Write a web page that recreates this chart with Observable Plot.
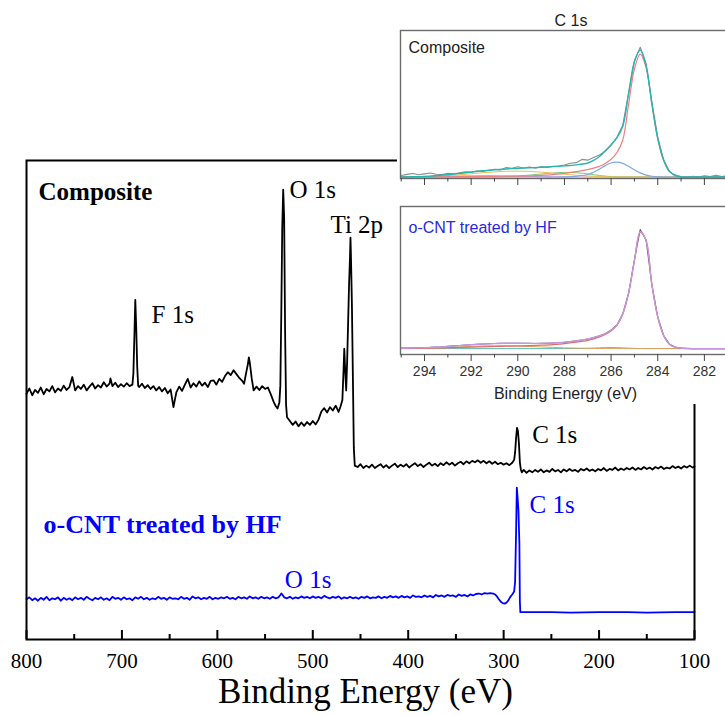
<!DOCTYPE html>
<html><head><meta charset="utf-8">
<script src="https://cdn.jsdelivr.net/npm/d3@7"></script>
<script src="https://cdn.jsdelivr.net/npm/@observablehq/plot@0.6"></script>
<style>
html,body{margin:0;padding:0;background:#fff;}
#wrap{position:relative;width:725px;height:715px;overflow:hidden;background:#fff;}
#main{position:absolute;left:0;top:0;}
#insetBg{position:absolute;left:397px;top:0;width:340px;height:404px;background:#fff;}
#inset1{position:absolute;left:395px;top:0;width:340px;}
#inset2{position:absolute;left:395px;top:195px;width:340px;}
</style></head><body>
<div id="wrap"><div id="main"></div><div id="insetBg"></div><div id="inset1"></div><div id="inset2"></div></div>
<script>
// ---------------- DATA ----------------
const sampleNames = ["Composite", "o-CNT treated by HF"];
const peakNames = ["F 1s", "O 1s", "Ti 2p", "C 1s"];
const surveyMajorTicks = [800, 700, 600, 500, 400, 300, 200, 100];
const surveyMinorTicks = [750, 650, 550, 450, 350, 250, 150];
const insetMajorTicks = [294, 292, 290, 288, 286, 284, 282];
const insetMinorTicks = [295, 293, 291, 289, 287, 285, 283, 281];
const axisTitle = "Binding Energy (eV)";
const insetTitle = "C 1s";

// Survey spectrum, Composite: [binding energy (eV), intensity (a.u.)]
const compositeSurvey = [
[800,51.3],[797,52.4],[794,51.0],[791,52.1],[788,51.5],[785,52.6],[782,51.2],[779,52.3],[776,51.8],[773,52.9],
[770,51.6],[767,52.4],[764,51.9],[761,53.0],[758,52.1],[755,52.7],[752,54.8],[749,52.0],[746,52.9],[743,52.3],
[740,53.2],[737,52.0],[734,52.8],[731,53.5],[728,52.4],[725,53.1],[722,52.6],[719,53.7],[716,52.8],[713,53.4],
[712,54.5],[710,52.9],[707,53.6],[704,52.7],[701,53.3],[698,52.8],[695,53.5],[692,52.9],[689,53.2],[688,55.5],
[687,63],[686,70.9],[685,65],[684,57],[683,53.0],[682,52.7],[679,53.4],[676,52.5],[673,53.1],[670,52.3],
[667,52.9],[664,52.0],[661,52.7],[658,51.8],[655,52.5],[652,51.4],[649,52.2],[646,48.5],[643,51.6],[640,52.8],
[637,51.9],[634,53.2],[631,54.4],[628,52.6],[625,53.5],[622,52.8],[619,53.9],[616,53.0],[613,53.6],[610,52.7],
[607,54.0],[604,54.1],[601,53.2],[598,54.4],[595,53.8],[592,55.0],[589,55.8],[586,55.2],[583,56.2],[580,55.4],
[577,54.6],[574,54.0],[572,53.4],[570,55.5],[568,57.5],[567,58.9],[566,57.8],[564,54.5],[562,52.0],[559,52.8],
[556,52.1],[553,52.9],[550,52.3],[547,52.6],[544,51.2],[541,49.6],[539,48.8],[537,48.2],[535,49.5],[534,53],
[533,68],[532,86],[531,93.9],[530,88],[529,64],[528,49],[527,46.4],[524,45.6],[521,44.8],[518,45.5],
[515,44.5],[512,45.3],[509,44.6],[506,45.4],[503,44.8],[500,45.6],[497,44.9],[494,45.9],[491,47.6],[488,48.3],
[485,47.4],[482,48.5],[479,47.8],[476,48.8],[473,47.5],[471,48.6],[469,50],[468,55],[467,60.7],[466,56],
[465,52],[464,58],[463,66],[462,74],[461,80],[460.5,83.9],[460,80],[459,70],[458,55],[457,40],
[456,36.3],[453,36.0],[450,36.6],[447,35.8],[444,36.3],[441,35.9],[438,36.5],[435,35.8],[432,36.2],[429,36.6],
[426,35.9],[423,36.4],[420,35.8],[417,36.3],[414,36.7],[411,36.0],[408,36.5],[405,36.1],[402,36.6],[399,35.9],
[396,36.4],[393,36.8],[390,36.2],[387,36.6],[384,36.0],[381,36.5],[378,36.9],[375,36.3],[372,36.7],[369,36.2],
[366,36.8],[363,36.4],[360,37.0],[357,36.5],[354,36.9],[351,36.3],[348,36.8],[345,37.1],[342,36.6],[339,37.2],
[336,36.8],[333,37.3],[330,37.0],[327,37.4],[324,36.9],[321,37.3],[318,36.8],[315,37.2],[312,36.7],[309,37.1],
[306,36.6],[303,36.9],[300,36.5],[297,36.8],[294,36.4],[291,36.9],[289,37.5],[288,39],[287,42],[286,44.2],
[285,43.5],[284,41],[283,37],[282,35.5],[281,34.9],[279,35.4],[276,34.8],[273,35.3],[270,34.9],[267,35.4],
[264,35.0],[261,35.5],[258,34.9],[255,35.3],[252,35.0],[249,35.6],[246,35.1],[243,35.4],[240,34.9],[237,35.5],
[234,35.1],[231,35.6],[228,35.2],[225,35.4],[222,35.0],[219,35.6],[216,35.3],[213,35.7],[210,35.2],[207,35.5],
[204,35.1],[201,35.6],[198,35.3],[195,35.8],[192,35.2],[189,35.6],[186,35.4],[183,35.9],[180,35.3],[177,35.7],
[174,35.4],[171,35.8],[168,35.5],[165,35.9],[162,35.4],[159,35.8],[156,35.5],[153,36.0],[150,35.6],[147,35.9],
[144,35.5],[141,36.0],[138,35.7],[135,36.1],[132,35.6],[129,35.9],[126,35.7],[123,36.2],[120,35.8],[117,36.1],
[114,35.7],[111,36.2],[108,35.9],[105,36.3],[102,35.9],[100,36.1]
];

// Survey spectrum, o-CNT treated by HF
const cntSurvey = [
[800,8.4],[797,8.8],[794,8.2],[791,8.6],[788,8.1],[785,8.7],[782,8.3],[779,8.9],[776,8.2],[773,8.6],
[770,8.4],[767,8.8],[764,8.1],[761,8.7],[758,8.3],[755,8.6],[752,8.2],[749,8.8],[746,8.4],[743,8.7],
[740,8.3],[737,8.9],[734,8.5],[731,8.2],[728,8.7],[725,8.4],[722,8.8],[719,8.3],[716,8.6],[713,8.2],
[710,8.9],[707,8.5],[704,8.7],[701,8.3],[698,8.8],[695,8.4],[692,8.6],[689,8.2],[686,8.8],[683,8.5],
[680,8.9],[677,8.4],[674,8.7],[671,8.3],[668,8.6],[665,8.4],[662,8.9],[659,8.5],[656,8.7],[653,8.3],
[650,8.8],[647,8.5],[644,8.6],[641,8.4],[638,8.9],[635,8.5],[632,8.7],[629,8.3],[626,9.0],[623,8.6],
[620,8.8],[617,8.4],[614,8.7],[611,8.5],[608,8.9],[605,8.4],[602,8.7],[599,8.5],[596,8.8],[593,8.6],
[590,8.9],[587,8.5],[584,8.7],[581,8.4],[578,8.9],[575,8.6],[572,8.8],[569,8.5],[566,9.0],[563,8.6],
[560,8.8],[557,8.5],[554,8.9],[551,8.6],[548,8.8],[545,8.5],[542,8.9],[539,8.6],[536,8.8],[534,9.3],
[533,9.6],[532,9.4],[530,8.8],[527,8.6],[524,8.9],[521,8.5],[518,8.8],[515,8.6],[512,9.0],[509,8.7],
[506,8.9],[503,8.6],[500,9.0],[497,8.7],[494,8.9],[491,8.6],[488,9.1],[485,8.8],[482,8.6],[479,8.9],
[476,8.7],[473,9.0],[470,8.5],[467,8.8],[464,8.6],[461,8.9],[458,8.6],[455,8.8],[452,8.5],[449,8.9],
[446,8.7],[443,9.0],[440,8.6],[437,8.8],[434,8.7],[431,9.0],[428,8.6],[425,8.9],[422,8.7],[419,9.1],
[416,8.8],[413,9.0],[410,8.7],[407,9.1],[404,8.8],[401,9.0],[398,8.7],[395,9.2],[392,8.9],[389,9.0],
[386,8.8],[383,9.2],[380,8.9],[377,9.1],[374,8.8],[371,9.3],[368,9.0],[365,9.2],[362,8.9],[359,9.3],
[356,9.1],[353,9.2],[350,8.9],[347,9.4],[344,9.1],[341,9.3],[338,9.0],[335,9.4],[332,9.2],[329,9.5],
[326,9.6],[323,9.4],[320,9.7],[317,9.6],[314,9.7],[311,9.6],[309,9.4],[307,9.0],[305,8.4],[303,7.9],
[301,7.6],[299,7.5],[297,7.7],[295,8.2],[293,8.9],[291,9.4],[289,10.0],[288,12],[287,22],[286.2,31.7],
[285.5,30],[284.5,27],[283.5,20],[283,8],[282.5,5.7],[280,5.7],[270,5.7],[250,5.7],[230,5.6],[200,5.7],
[170,5.7],[150,5.6],[120,5.7],[100,5.7]
];

// C 1s high-resolution: energies of the fitted curves
const fitE = [295,294.5,294,293.5,293,292.5,292,291.5,291,290.5,290,289.5,289,288.5,288,287.5,287,286.75,286.5,286.25,
286,285.75,285.5,285.25,285,284.75,284.5,284.25,284,283.75,283.5,283.25,283,282.5,282,281.5,281];

// Composite C 1s: measured spectrum [E, intensity]
const compositeC1sRaw = [
[295,2.0],[294.75,2.8],[294.5,3.4],[294.25,2.5],[294,3.1],[293.75,3.7],[293.5,2.9],[293.25,2.6],[293,3.5],[292.75,3.1],
[292.5,3.8],[292.25,4.5],[292,4.2],[291.75,5.1],[291.5,4.8],[291.25,5.6],[291,6.2],[290.75,5.8],[290.5,7.4],[290.25,6.9],
[290,7.9],[289.75,7.1],[289.5,7.8],[289.25,7.0],[289,8.0],[288.75,7.5],[288.5,8.2],[288.25,8.4],[288,9.1],[287.75,10.3],
[287.5,10.7],[287.25,12.9],[287,12.4],[286.75,14.2],[286.5,15.9],[286.25,18.4],[286,22.4],[285.75,27.8],[285.5,36.0],[285.25,57.5],
[285,79.5],[284.75,88.7],[284.5,77.5],[284.25,51.5],[284,28.0],[283.75,12.8],[283.5,4.8],[283.25,1.9],[283,0.9],[282.75,0.6],
[282.5,1.5],[282.25,1.0],[282,1.9],[281.75,1.3],[281.5,2.1],[281.25,1.4],[281,1.8]
];
const compositeEnvelope = [1.0,1.2,1.45,1.95,2.55,3.4,4.35,5.2,5.95,6.45,6.8,7.25,7.6,8.0,8.5,9.2,10.5,12.3,14.9,18.7,
22.9,27.65,35.2,57.3,78.9,86.8,76.3,50.5,27.1,12.5,4.8,2.2,1.3,1.0,1.0,1.0,1.0];
const compositeRed = [1.0,1.0,1.05,1.1,1.15,1.2,1.3,1.4,1.5,1.55,1.6,1.8,2.1,2.6,3.4,4.6,6.0,7.0,8.3,10.2,
13.0,17.5,26,50,74,84,75,50,27,12.5,4.8,2.2,1.3,1.0,1.0,1.0,1.0];
const compositeBlue = [1,1,1,1,1,1,1,1,1,1,1,1,1,1,1.1,1.5,2.7,4.2,6.3,8.7,
10.5,11.0,10.2,8.3,5.9,3.8,2.3,1.5,1.1,1,1,1,1,1,1,1,1];
const compositeGreen = [1,1,1,1,1,1,1,1,1.1,1.3,1.7,2.3,3.0,3.7,4.1,3.9,3.1,2.6,2.0,1.6,
1.3,1.1,1,1,1,1,1,1,1,1,1,1,1,1,1,1,1];
const compositeYellow = [1.0,1.1,1.2,1.5,1.9,2.5,3.2,3.9,4.5,4.9,5.0,4.8,4.3,3.6,2.9,2.2,1.7,1.5,1.3,1.2,
1.1,1.05,1,1,1,1,1,1,1,1,1,1,1,1,1,1,1];
const compositePink = [1.0,1.1,1.2,1.35,1.5,1.7,1.85,1.9,1.85,1.7,1.5,1.35,1.2,1.1,1,1,1,1,1,1,
1,1,1,1,1,1,1,1,1,1,1,1,1,1,1,1,1];

// o-CNT treated by HF C 1s
const cntC1sRaw = [
[295,4.3],[294.75,4.4],[294.5,4.5],[294.25,4.6],[294,4.7],[293.75,4.8],[293.5,5.0],[293.25,5.2],[293,5.5],[292.75,5.8],
[292.5,6.1],[292.25,6.4],[292,6.6],[291.75,6.9],[291.5,7.1],[291.25,7.3],[291,7.4],[290.75,7.5],[290.5,7.6],[290.25,7.6],
[290,7.6],[289.75,7.5],[289.5,7.5],[289.25,7.4],[289,7.5],[288.75,7.6],[288.5,7.8],[288.25,8.0],[288,8.3],[287.75,8.7],
[287.5,9.2],[287.25,9.8],[287,10.5],[286.75,11.4],[286.5,12.6],[286.25,14.0],[286,16.5],[285.75,20.0],[285.5,27.5],[285.25,41.5],
[285,64],[284.75,84.5],[284.5,77.5],[284.25,47],[284,25.5],[283.75,13],[283.5,7.0],[283.25,5.0],[283,4.4],[282.75,4.1],
[282.5,4.0],[282.25,4.0],[282,4.0],[281.75,4.0],[281.5,4.0],[281.25,4.0],[281,4.0]
];
const cntEnvelope = [4.2,4.4,4.6,4.9,5.4,6.0,6.6,7.1,7.4,7.6,7.6,7.5,7.5,7.8,8.3,9.2,10.5,11.4,12.6,14.1,
16.4,20.0,27.5,41.5,63.5,83,77,47,25.5,13,7.0,5.0,4.4,4.0,4.0,4.0,4.0];
const cntRed = [4.1,4.2,4.3,4.4,4.6,4.8,5.0,5.2,5.4,5.6,5.8,6.0,6.3,6.7,7.3,8.3,9.6,10.6,11.9,13.5,
15.9,19.6,27.2,41.3,63.3,82.5,76.8,46.8,25.3,12.9,6.9,4.9,4.3,4.0,4.0,4.0,4.0];
const cntShakeup = [4.0,4.1,4.2,4.4,4.7,5.1,5.5,5.8,5.9,5.9,5.7,5.4,5.1,4.8,4.5,4.3,4.15,4.1,4.05,4.0,
4.0,4.0,4.0,4.0,4.0,4.0,4.0,4.0,4.0,4.0,4.0,4.0,4.0,4.0,4.0,4.0,4.0];
const cntGreen = [4.0,4.0,4.0,4.0,4.0,4.0,4.0,4.0,4.0,4.0,4.0,4.0,4.0,4.0,4.0,4.05,4.15,4.3,4.5,4.65,
4.7,4.6,4.45,4.3,4.15,4.05,4.0,4.0,4.0,4.0,4.0,4.0,4.0,4.0,4.0,4.0,4.0];

// ---------------- MAIN SURVEY ----------------
const serif = "'Liberation Serif', 'Times New Roman', serif";
const sans = "'Liberation Sans', Arial, sans-serif";
const BLUE = "#0000ff";

function txt(s, x, y, o) {
  return Plot.text([s], Object.assign({x: () => x, y: () => y, text: d => d, textAnchor: "start",
    lineAnchor: "middle", fontFamily: serif, fontSize: 25}, o));
}

const mainPlot = Plot.plot({
  width: 725, height: 715,
  marginTop: 160, marginBottom: 76, marginLeft: 26, marginRight: 31,
  style: {background: "#fff", maxWidth: "none", fontFamily: serif, fontSize: "21px", color: "#000"},
  x: {domain: [800, 100]},
  y: {domain: [0, 100], axis: null},
  marks: [
    Plot.line(cntSurvey, {x: d => d[0], y: d => d[1], stroke: BLUE, strokeWidth: 1.8}),
    Plot.line(compositeSurvey, {x: d => d[0], y: d => d[1], stroke: "#000", strokeWidth: 1.8}),
    Plot.frame({stroke: "#000", strokeWidth: 2}),
    Plot.tickX(surveyMajorTicks, {x: d => d, stroke: "#000", strokeWidth: 2, insetTop: 470}),
    Plot.tickX(surveyMinorTicks, {x: d => d, stroke: "#000", strokeWidth: 2, insetTop: 474}),
    Plot.axisX({ticks: surveyMajorTicks, tickSize: 0, tickPadding: 14, label: null, fontSize: 21, tickFormat: d => String(d)}),
    Plot.text([axisTitle], {text: d => d, frameAnchor: "bottom", dx: 5, dy: 52, fontSize: 35, fontFamily: serif, lineAnchor: "middle"}),
    txt(sampleNames[0], 787.4, 93.5, {fontWeight: "bold", fontSize: 25}),
    txt(sampleNames[1], 782.2, 24.0, {fontWeight: "bold", fontSize: 26, fill: BLUE}),
    txt(peakNames[0], 669, 67.8),
    txt(peakNames[1], 524.4, 93.9),
    txt(peakNames[2], 481.4, 86.6),
    txt(peakNames[3], 270.1, 42.6),
    txt(peakNames[3], 272.9, 28.0, {fill: BLUE}),
    txt(peakNames[1], 529.3, 12.4, {fill: BLUE})
  ]
});
document.getElementById("main").append(mainPlot);

// ---------------- INSET ----------------
const insetX = {domain: [295.03, 280.88]};
const insetStyle = {background: "transparent", maxWidth: "none", fontFamily: sans, fontSize: "14px", color: "#333", overflow: "visible"};
const fitLine = (ys, color, w) => Plot.line(fitE, {x: fitE, y: ys, stroke: color, strokeWidth: w || 1, curve: "catmull-rom"});

const insetTopPlot = Plot.plot({
  width: 340, height: 195, marginTop: 30, marginBottom: 17, marginLeft: 5, marginRight: 5,
  x: insetX, y: {domain: [0, 100], axis: null}, style: insetStyle,
  marks: [
    fitLine(compositePink, "#e58bdc"),
    fitLine(compositeGreen, "#7cc67c"),
    fitLine(compositeYellow, "#e8c24e"),
    fitLine(compositeBlue, "#80a9e4", 1.2),
    fitLine(compositeRed, "#f08080", 1.2),
    Plot.line(compositeC1sRaw, {x: d => d[0], y: d => d[1], stroke: "#8c8c8c", strokeWidth: 1.1}),
    fitLine(compositeEnvelope, "#27b5b0", 1.4),
    Plot.frame({stroke: "#6b6b6b", strokeWidth: 1.4}),
    Plot.axisX({ticks: insetMajorTicks, tickSize: 7, stroke: "#444", tickFormat: () => "", label: null}),
    Plot.axisX({ticks: insetMinorTicks, tickSize: 3.5, stroke: "#444", tickFormat: () => "", label: null}),
    Plot.text([insetTitle], {text: d => d, frameAnchor: "top", dx: 5.5, dy: -9.5, fontSize: 16, fontFamily: sans, fill: "#222", lineAnchor: "middle"}),
    Plot.text([sampleNames[0]], {text: d => d, frameAnchor: "top-left", dx: 8, dy: 17.5, fontSize: 16, fontFamily: sans, fill: "#222", textAnchor: "start", lineAnchor: "middle"})
  ]
});
document.getElementById("inset1").append(insetTopPlot);

const insetBottomPlot = Plot.plot({
  width: 340, height: 209, marginTop: 11, marginBottom: 50, marginLeft: 5, marginRight: 5,
  x: insetX, y: {domain: [0, 100], axis: null}, style: insetStyle,
  marks: [
    fitLine(cntGreen, "#5fbfa8"),
    fitLine(cntShakeup, "#e0a060"),
    Plot.line(cntC1sRaw, {x: d => d[0], y: d => d[1], stroke: "#5a5a8c", strokeWidth: 1.1}),
    fitLine(cntRed, "#e06a6a", 1.2),
    fitLine(cntEnvelope, "#c39ae0", 1.3),
    Plot.frame({stroke: "#6b6b6b", strokeWidth: 1.4}),
    Plot.axisX({ticks: insetMajorTicks, tickSize: 7, tickPadding: 5, stroke: "#444", label: null, fontSize: 14, tickFormat: d => String(d)}),
    Plot.axisX({ticks: insetMinorTicks, tickSize: 3.5, stroke: "#444", tickFormat: () => "", label: null}),
    Plot.text([axisTitle], {text: d => d, frameAnchor: "bottom", dx: 0, dy: 39, fontSize: 16, fontFamily: sans, fill: "#222", lineAnchor: "middle"}),
    Plot.text([sampleNames[1]], {text: d => d, frameAnchor: "top-left", dx: 8, dy: 21, fontSize: 16, fontFamily: sans, fill: "#2a2ae0", textAnchor: "start", lineAnchor: "middle"})
  ]
});
document.getElementById("inset2").append(insetBottomPlot);
</script></body></html>
